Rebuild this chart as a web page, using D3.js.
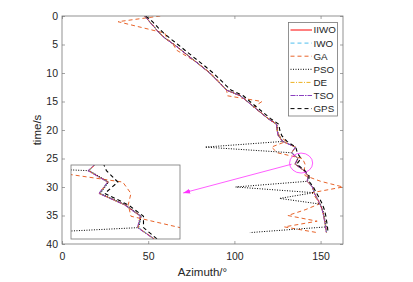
<!DOCTYPE html>
<html>
<head>
<meta charset="utf-8">
<script src="https://cdn.jsdelivr.net/npm/d3@7/dist/d3.min.js"></script>
<style>
  body { margin: 0; background: #fff; }
  text { font-family: "Liberation Sans", Arial, sans-serif; }
</style>
</head>
<body>
<div id="viz"></div>
<script>
// time in seconds, one sample a second
var times = [0,1,2,3,4,5,6,7,8,9,10,11,12,13,14,15,16,17,18,19,20,21,22,23,24,25,26,27,28,29,30,31,32,33,34,35,36,37,38];

var iiwo = [48,50.8,53.7,56.5,60.2,65,69.2,73.3,77.5,81.6,85.7,89,92.3,95.5,103.5,107.5,111.5,115.5,119.5,124.5,124.8,125.5,128,135.5,133.2,136.8,135.2,139.9,142.8,142.3,145.3,146.3,148,149.7,151,151.8,152.4,153,153.4];
var iwo  = [48,50.9,53.7,56.6,60.2,65.1,69.2,73.4,77.5,81.7,85.8,89,92.4,95.6,103.5,107.6,111.5,115.6,119.6,124.5,124.9,125.6,128.1,135.4,133.3,136.8,135.3,139.9,142.8,142.4,145.3,146.4,148.1,149.8,151,151.9,152.5,153,153.5];
var ga   = [57,32.5,46,59.6,61,64.5,66.5,72,77.5,81.8,86,89.5,92.5,95.5,96,116,111,115.5,119.8,124.5,125,126,130,121.5,125,139.5,141,140.5,141,150,163,145,147.5,149,141,131,148,129,148];
var pso  = [48,50.9,53.8,56.6,60.3,65.1,69.3,73.4,77.6,81.7,85.8,89.1,92.4,95.6,103.6,107.6,111.6,115.6,119.6,124.6,124.9,125.7,128.3,83,133.4,136.9,135.4,140,142.9,142.4,100.7,146,126.2,149.8,151.2,152,152.7,153.3,109];
var de   = [48,50.8,53.6,56.5,60.3,65,69.1,73.3,77.4,81.6,85.7,89.1,92.3,95.5,103.4,107.5,111.4,115.5,119.5,124.4,124.8,125.5,128,135.5,133.2,136.7,135.2,139.8,142.7,142.3,145.2,146.3,148,149.7,150.9,151.8,152.4,152.9,153.4];
var tso  = [48,50.7,53.6,56.4,60.1,64.9,69.1,73.2,77.4,81.5,85.6,88.9,92.2,95.4,103.4,107.4,111.4,115.4,119.4,124.4,124.7,125.4,127.9,135.4,133.1,136.7,135.1,139.8,142.7,142.2,145.2,146.2,147.9,149.6,150.9,151.7,152.3,152.9,153.3];
var gps  = [48.6,52.5,55.6,59,63,67.2,71.3,75.4,79.6,83.7,87.7,91.2,94.5,98,105.2,109,113,117,121,125.8,126.3,127.5,130.5,135.6,136.5,138.6,136.2,140.5,143.3,143.3,145.8,147.5,149.4,151,152.2,153,153.5,154,154.3];

var names = ["IIWO", "IWO", "GA", "PSO", "DE", "TSO", "GPS"];
var xTicks = [0, 50, 100, 150];
var yTicks = [0, 5, 10, 15, 20, 25, 30, 35, 40];

var series = [iiwo, iwo, ga, pso, de, tso, gps];
var styles = [
    {color: "#ff0000", dash: null, w: 1},
    {color: "#4dbeee", dash: "4,3", w: 1},
    {color: "#e8642a", dash: "4,3", w: 1},
    {color: "#000000", dash: "1,1.5", w: 1},
    {color: "#edb120", dash: "4,1.5,1,1.5", w: 1},
    {color: "#8a3fbf", dash: "5,1,1.5,1", w: 1},
    {color: "#000000", dash: "4,3", w: 1.1}
];

var fx = 413;
var fy = 282;

var svg = d3.select("#viz")
    .append("svg")
    .attr("width", fx)
    .attr("height", fy);

var x = d3.scaleLinear().domain([0, 163]).range([62, 343]);
var y = d3.scaleLinear().domain([0, 40]).range([16, 244]);

svg.append("clipPath").attr("id", "plotclip")
    .append("rect")
    .attr("x", 62).attr("y", 16)
    .attr("width", 281).attr("height", 228);

var axisColor = "#262626";

function styleAxis(g) {
    g.select(".domain").remove();
    g.selectAll(".tick line").attr("stroke", "#666").attr("stroke-width", 0.6);
    g.selectAll(".tick text")
        .attr("fill", axisColor)
        .style("font-size", "10.5px")
        .style("font-family", "'Liberation Sans', Arial, sans-serif");
}

svg.append("g")
    .attr("transform", "translate(0,244)")
    .call(d3.axisBottom(x).tickValues(xTicks).tickSizeInner(-3).tickSizeOuter(0).tickPadding(9))
    .call(styleAxis);

svg.append("g")
    .attr("transform", "translate(0,16)")
    .call(d3.axisTop(x).tickValues(xTicks).tickSizeInner(-3).tickSizeOuter(0).tickFormat(""))
    .call(styleAxis);

svg.append("g")
    .attr("transform", "translate(62,0)")
    .call(d3.axisLeft(y).tickValues(yTicks).tickSizeInner(-3).tickSizeOuter(0).tickPadding(4))
    .call(styleAxis);

svg.append("g")
    .attr("transform", "translate(343,0)")
    .call(d3.axisRight(y).tickValues(yTicks).tickSizeInner(-3).tickSizeOuter(0).tickFormat(""))
    .call(styleAxis);

// lines
var plot = svg.append("g").attr("clip-path", "url(#plotclip)");

function drawSeries(g, sx, sy) {
    series.forEach(function(vals, k) {
        var pts = times.map(function(t, i) { return [vals[i], t]; });
        var line = d3.line()
            .x(function(d) { return sx(d[0]); })
            .y(function(d) { return sy(d[1]); });
        g.append("path")
            .attr("d", line(pts))
            .attr("fill", "none")
            .attr("stroke", styles[k].color)
            .attr("stroke-width", styles[k].w)
            .attr("stroke-dasharray", styles[k].dash);
    });
}

drawSeries(plot, x, y);

// box
svg.append("rect")
    .attr("x", 62).attr("y", 16)
    .attr("width", 281).attr("height", 228)
    .attr("fill", "none")
    .attr("stroke", "#777")
    .attr("stroke-width", 0.8);

// magnified region
var ix = d3.scaleLinear().domain([130, 150]).range([71, 180]);
var iy = d3.scaleLinear().domain([23.5, 30]).range([165, 239]);

svg.append("clipPath").attr("id", "insetclip")
    .append("rect")
    .attr("x", 71).attr("y", 165)
    .attr("width", 109).attr("height", 74);

svg.append("rect")
    .attr("x", 71).attr("y", 165)
    .attr("width", 109).attr("height", 74)
    .attr("fill", "#fff");

var inset = svg.append("g").attr("clip-path", "url(#insetclip)");
drawSeries(inset, ix, iy);

svg.append("rect")
    .attr("x", 71).attr("y", 165)
    .attr("width", 109).attr("height", 74)
    .attr("fill", "none")
    .attr("stroke", "#777")
    .attr("stroke-width", 0.8);

// circle + arrow
var magenta = "#ff33ff";
var cx = 138.7, cy = 25.8, rxd = 6.7, ryd = 1.75;

svg.append("ellipse")
    .attr("cx", x(cx))
    .attr("cy", y(cy))
    .attr("rx", x(cx + rxd) - x(cx))
    .attr("ry", y(cy + ryd) - y(cy))
    .attr("fill", "none")
    .attr("stroke", magenta)
    .attr("stroke-width", 0.8);

svg.append("defs").append("marker")
    .attr("id", "head")
    .attr("markerUnits", "userSpaceOnUse")
    .attr("markerWidth", 8).attr("markerHeight", 6)
    .attr("refX", 7).attr("refY", 3)
    .attr("orient", "auto")
    .append("path")
    .attr("d", "M0,0.5L7,3L0,5.5Z")
    .attr("fill", magenta);

svg.append("line")
    .attr("x1", x(133.2)).attr("y1", y(26))
    .attr("x2", x(70.3)).attr("y2", y(31.05))
    .attr("stroke", magenta)
    .attr("stroke-width", 0.8)
    .attr("marker-end", "url(#head)");

// legend
var lg = svg.append("g");
lg.append("rect")
    .attr("x", 288.5).attr("y", 22.5)
    .attr("width", 49).attr("height", 93.5)
    .attr("fill", "#fff")
    .attr("stroke", "#777")
    .attr("stroke-width", 0.8);

names.forEach(function(n, k) {
    var ly = 30 + k * 13.1;
    lg.append("line")
        .attr("x1", 290.5).attr("x2", 312)
        .attr("y1", ly).attr("y2", ly)
        .attr("stroke", styles[k].color)
        .attr("stroke-width", 1)
        .attr("stroke-dasharray", styles[k].dash);
    lg.append("text")
        .attr("x", 313.5).attr("y", ly)
        .attr("dy", "0.35em")
        .attr("fill", axisColor)
        .style("font-size", "9.8px")
        .text(n);
});

// axis labels
svg.append("text")
    .attr("x", 202.5).attr("y", 276)
    .attr("text-anchor", "middle")
    .attr("fill", axisColor)
    .style("font-size", "11.5px")
    .text("Azimuth/°");

svg.append("text")
    .attr("transform", "translate(41,130)rotate(-90)")
    .attr("text-anchor", "middle")
    .attr("fill", axisColor)
    .style("font-size", "11.5px")
    .text("time/s");
</script>
</body>
</html>
